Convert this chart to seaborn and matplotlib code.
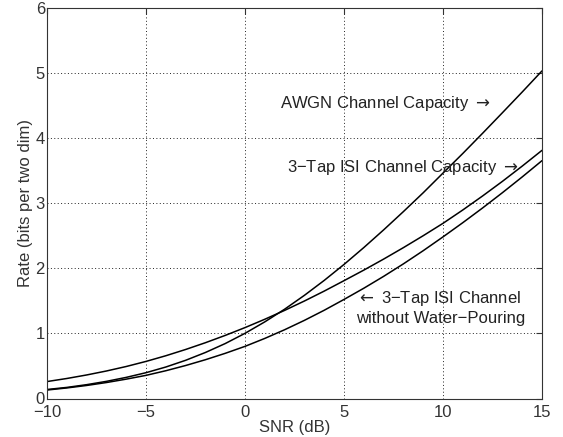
import numpy as np
import pandas as pd
import seaborn as sns
import matplotlib
matplotlib.use("Agg")
import matplotlib.pyplot as plt

# SNR grid (dB) and rates
snr_db = list(range(-10, 16))
awgn_rate = [0.138, 0.170, 0.212, 0.263, 0.324, 0.396, 0.483, 0.586, 0.706, 0.843,
             1.000, 1.176, 1.370, 1.583, 1.812, 2.057, 2.316, 2.587, 2.868,
             3.157, 3.459, 3.760, 4.070, 4.385, 4.703, 5.027]
isi_wp_rate = [0.260, 0.307, 0.361, 0.422, 0.491, 0.569, 0.656, 0.752, 0.856,
               0.968, 1.088, 1.216, 1.352, 1.496, 1.648, 1.808, 1.970, 2.139,
               2.315, 2.498, 2.688, 2.893, 3.108, 3.332, 3.566, 3.808]
isi_nowp_rate = [0.130, 0.162, 0.200, 0.245, 0.297, 0.355, 0.426, 0.506, 0.595,
                 0.693, 0.800, 0.922, 1.055, 1.199, 1.354, 1.520, 1.692, 1.874,
                 2.066, 2.268, 2.480, 2.698, 2.924, 3.158, 3.400, 3.650]

x_ticks = [-10, -5, 0, 5, 10, 15]
y_ticks = [0, 1, 2, 3, 4, 5, 6]

sns.set_style("white")
plt.rcParams['font.family'] = ['Liberation Sans', 'DejaVu Sans']
plt.rcParams['font.size'] = 10

df = pd.DataFrame({
    'snr': snr_db * 3,
    'rate': awgn_rate + isi_wp_rate + isi_nowp_rate,
    'curve': (['awgn'] * len(snr_db) + ['wp'] * len(snr_db)
              + ['nowp'] * len(snr_db)),
})

fig = plt.figure(figsize=(5.63, 4.37), dpi=100)
ax = fig.add_axes([47 / 563, 38.5 / 437, 495 / 563, 391 / 437])

sns.lineplot(data=df, x='snr', y='rate', units='curve', estimator=None,
             color='black', linewidth=1.1, ax=ax, legend=False)

ax.set_xlim(-10, 15)
ax.set_ylim(0, 6)
ax.set_xticks(x_ticks)
ax.set_yticks(y_ticks)
ax.grid(True, color='#222222', linewidth=0.7, linestyle=(0, (1, 2.5)))
for s in ax.spines.values():
    s.set_color('#333333')
    s.set_linewidth(0.8)
ax.tick_params(direction='in', length=4, top=True, right=True,
               labelsize=12, colors='#333333')
ax.tick_params(axis='x', pad=4.5)
ax.tick_params(axis='y', pad=1.5)
ax.set_xlabel('SNR (dB)', fontsize=12, color='#333333', labelpad=0)
ax.set_ylabel('Rate (bits per two dim)', fontsize=12, color='#333333',
              labelpad=2)

txt = dict(fontsize=12, color='#222222', va='center', ha='left')
ax.text(1.75, 4.53, r'AWGN Channel Capacity $\rightarrow$', **txt)
ax.text(2.1, 3.54, '3\u2212Tap ISI Channel Capacity ' + r'$\rightarrow$', **txt)
ax.text(5.6, 1.53, r'$\leftarrow$' + ' 3\u2212Tap ISI Channel', **txt)
ax.text(5.6, 1.23, 'without Water\u2212Pouring', **txt)

fig.savefig('out.png', dpi=100)
